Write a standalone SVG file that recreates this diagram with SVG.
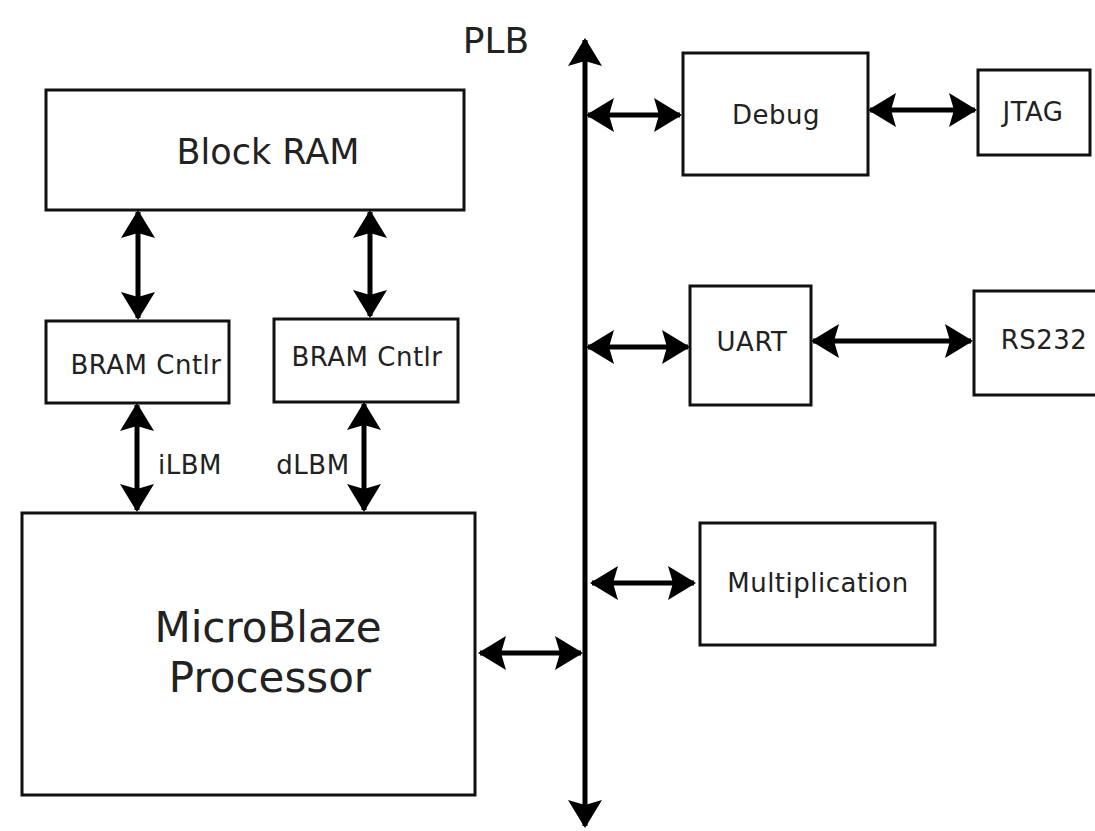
<svg xmlns="http://www.w3.org/2000/svg" width="1095" height="831" viewBox="0 0 1095 831">
<defs>
<style>
.box{fill:#fff;stroke:#111;stroke-width:3}
.t{font-family:"DejaVu Sans",sans-serif;fill:#222;text-anchor:middle;dominant-baseline:central}
.s{font-size:26px;letter-spacing:0.5px}
.c{stroke:#000;stroke-width:5;fill:none;marker-start:url(#ah);marker-end:url(#ah)}
</style>
<marker id="ah" viewBox="0 0 28 34" refX="26" refY="17" markerWidth="28" markerHeight="34" markerUnits="userSpaceOnUse" orient="auto-start-reverse">
<path d="M0,0 L28,17 L0,34 L5,17 Z" fill="#000"/>
</marker>
</defs>
<rect width="1095" height="831" fill="#fff"/>
<g id="connectors">
<line class="c" x1="585" y1="40" x2="585" y2="826"/>
<line class="c" x1="588" y1="115" x2="680" y2="115"/>
<line class="c" x1="870" y1="110" x2="975" y2="110"/>
<line class="c" x1="588" y1="347" x2="688" y2="347"/>
<line class="c" x1="813" y1="341" x2="971" y2="341"/>
<line class="c" x1="592" y1="583" x2="694" y2="583"/>
<line class="c" x1="480" y1="653" x2="581" y2="653"/>
<line class="c" x1="138" y1="212" x2="138" y2="318"/>
<line class="c" x1="370" y1="212" x2="370" y2="316"/>
<line class="c" x1="137" y1="405" x2="137" y2="510"/>
<line class="c" x1="364" y1="404" x2="364" y2="510"/>
</g>
<text class="t" x="496" y="40" font-size="36">PLB</text>
<g id="blockram"><rect class="box" x="46" y="90" width="418" height="120"/><text class="t" x="268" y="152" font-size="35">Block RAM</text></g>
<g id="bram1"><rect class="box" x="46" y="321" width="183" height="82"/><text class="t s" x="146" y="365">BRAM Cntlr</text></g>
<g id="bram2"><rect class="box" x="274" y="319" width="184" height="83"/><text class="t s" x="367" y="357">BRAM Cntlr</text></g>
<text class="t s" x="190" y="465">iLBM</text>
<text class="t s" x="313" y="465">dLBM</text>
<g id="microblaze"><rect class="box" x="22" y="513" width="453" height="282"/><text class="t" x="268" y="627" font-size="42">MicroBlaze</text><text class="t" x="270" y="677" font-size="42">Processor</text></g>
<g id="debug"><rect class="box" x="683" y="53" width="185" height="122"/><text class="t s" x="776" y="115">Debug</text></g>
<g id="jtag"><rect class="box" x="978" y="70" width="112" height="85"/><text class="t s" x="1033" y="112">JTAG</text></g>
<g id="uart"><rect class="box" x="690" y="286" width="121" height="119"/><text class="t s" x="752" y="342">UART</text></g>
<g id="rs232"><rect class="box" x="974" y="291" width="125" height="104"/><text class="t s" x="1044" y="340">RS232</text></g>
<g id="mult"><rect class="box" x="700" y="523" width="235" height="122"/><text class="t s" x="818" y="583">Multiplication</text></g>
</svg>
